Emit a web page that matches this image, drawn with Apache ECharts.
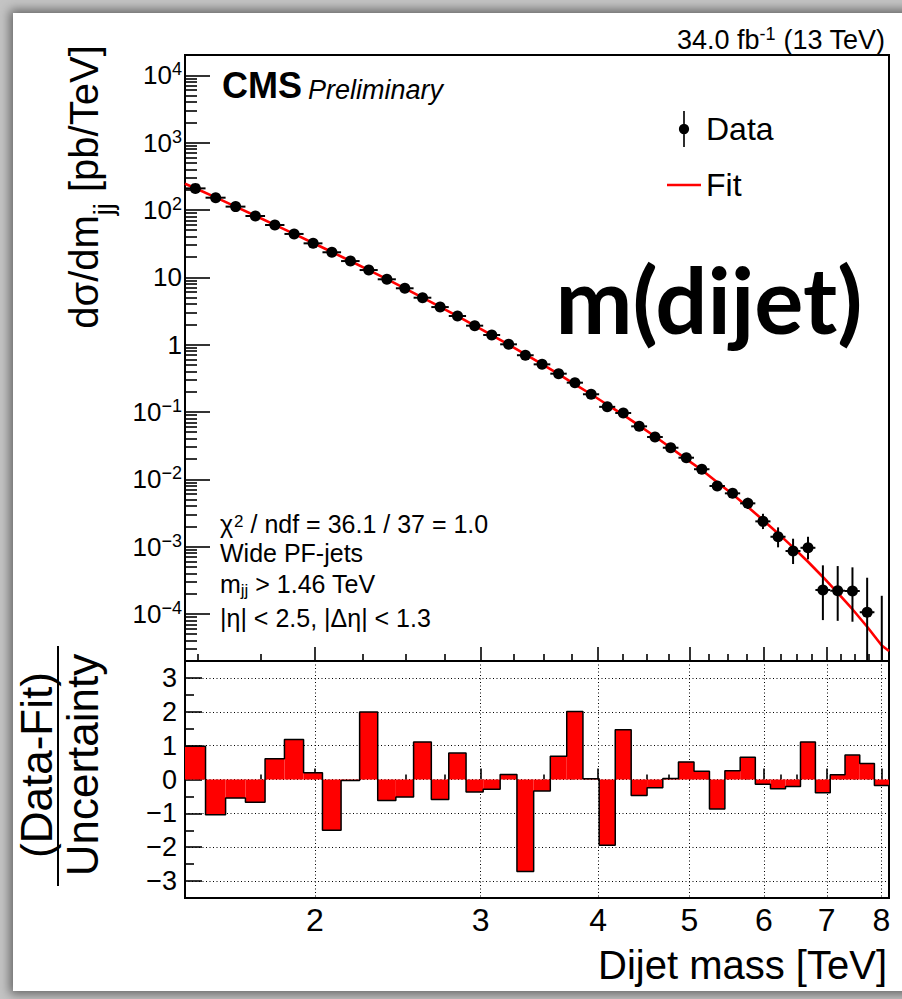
<!DOCTYPE html>
<html>
<head>
<meta charset="utf-8">
<script src="https://cdn.jsdelivr.net/npm/echarts@6/dist/echarts.min.js"></script>
<style>
html,body{margin:0;padding:0;width:902px;height:999px;overflow:hidden;background:#c4c4c4;}
#panel{position:absolute;left:13px;top:13px;width:920px;height:978px;background:#fff;box-shadow:0 0 10px 3px rgba(0,0,0,0.5);}
#chart{position:absolute;left:0;top:0;width:902px;height:999px;}
</style>
</head>
<body>
<div id="panel"></div>
<div id="chart"></div>
<script>
// ---- data ----
const binEdges = [1.455,1.530,1.607,1.687,1.770,1.856,1.945,2.037,2.132,2.231,2.332,2.438,2.546,2.659,2.775,2.895,3.019,3.147,3.279,3.416,3.558,3.704,3.854,4.010,4.171,4.337,4.509,4.686,4.869,5.058,5.253,5.455,5.663,5.877,6.099,6.328,6.564,6.808,7.060,7.320,7.589,7.866,8.152];
const crossSection = [209,152,112,81.3,59.7,44.0,31.9,23.5,17.4,12.8,9.33,6.86,4.97,3.61,2.66,1.91,1.39,1.01,0.695,0.509,0.370,0.272,0.183,0.119,0.0964,0.0611,0.0424,0.0294,0.0209,0.0141,0.00795,0.00618,0.00439,0.00237,0.00140,0.00086,0.00096,0.000227,0.000221,0.000219,0.000106,null];
const errLow = [null,null,null,null,null,null,null,null,null,null,null,null,null,null,null,null,null,null,null,0.499,0.3615,0.2647,0.1771,0.1144,0.0923,0.0579,0.0397,0.0272,0.0191,0.0127,0.00688,0.00525,0.00362,0.00182,0.000975,0.000551,0.000647,0.000081,0.000079,0.0000766,0.000018,0];
const errHigh = [null,null,null,null,null,null,null,null,null,null,null,null,null,null,null,null,null,null,null,0.519,0.3785,0.2793,0.1889,0.1237,0.1006,0.0643,0.0451,0.0316,0.0227,0.0156,0.00918,0.00726,0.00531,0.00307,0.00193,0.00131,0.00140,0.000527,0.000514,0.000492,0.000345,0.000186];
const fitMass = [1.455,1.4925,1.5685,1.647,1.7285,1.813,1.9005,1.991,2.0845,2.1815,2.2815,2.385,2.492,2.6025,2.717,2.835,2.957,3.083,3.213,3.3475,3.487,3.631,3.779,3.932,4.0905,4.254,4.423,4.5975,4.7775,4.9635,5.1555,5.354,5.559,5.77,5.988,6.2135,6.446,6.686,6.934,7.19,7.4545,7.7275,8.009,8.152];
const fitValue = [245,209.9,153.5,112.2,82.0,60.1,44.06,32.28,23.71,17.42,12.79,9.376,6.855,5.00,3.639,2.649,1.919,1.387,0.998,0.716,0.514,0.364,0.257,0.183,0.128,0.0904,0.0627,0.0431,0.0294,0.0199,0.01374,0.00902,0.00598,0.00389,0.00248,0.00157,0.000973,0.000596,0.000354,0.000206,0.0001175,0.0000646,0.0000339,0.0000282];
const residual = [0.98,-1.04,-0.55,-0.67,0.61,1.18,0.20,-1.50,-0.03,1.99,-0.62,-0.52,1.11,-0.59,0.78,-0.37,-0.29,0.15,-2.72,-0.34,0.69,2.01,0.02,-1.94,1.47,-0.47,-0.24,0.03,0.52,0.24,-0.87,0.26,0.66,-0.14,-0.27,-0.21,1.11,-0.39,0.14,0.72,0.47,-0.18];

// ---- axis ticks ----
const massMin = 1.455, massMax = 8.152;
const xsMin = 2e-5, xsMax = 2e4;
const majorMassTicks = [2,3,4,5,6,7,8];
const minorMassTicks = [1.5,1.75,2.25,2.5,2.75,3.25,3.5,3.75,4.25,4.5,4.75,5.25,5.5,5.75,6.25,6.5,6.75,7.25,7.5,7.75];
const decadeTicks = [1e-4,1e-3,1e-2,1e-1,1,10,100,1000,10000];
const pullTicks = [-3,-2,-1,0,1,2,3];
const pullMinorTicks = [-2.5,-1.5,-0.5,0.5,1.5,2.5];
const minorDecadeTicks = [];
for (let e = -5; e <= 4; e++) {
  for (let k = 2; k <= 9; k++) {
    const v = +(k * Math.pow(10, e)).toPrecision(3);
    if (v >= xsMin && v <= xsMax) minorDecadeTicks.push(v);
  }
}

const FONT = 'Liberation Sans, Arial, Helvetica, sans-serif';
const centers = crossSection.map((v, i) => (binEdges[i] + binEdges[i + 1]) / 2);

const errorRows = crossSection.map((v, i) => [binEdges[i], binEdges[i + 1], centers[i], v, errLow[i], errHigh[i]]);
const pointRows = [];
crossSection.forEach((v, i) => { if (v != null) pointRows.push([centers[i], v]); });
const barRows = residual.map((r, i) => [binEdges[i], binEdges[i + 1], r]);
const stepRows = residual.map((r, i) => [binEdges[i], r]);
stepRows.push([binEdges[binEdges.length - 1], residual[residual.length - 1]]);

const chart = echarts.init(document.getElementById('chart'), null, {renderer: 'svg'});

const tickLine = {color: '#000', width: 1.6};
const dotted = {color: '#000', width: 1, type: [1, 2.5]};

function decadeLabel(v) {
  const e = Math.round(Math.log10(v));
  if (e === 0) return '{b|1}';
  if (e === 1) return '{b|10}';
  return '{b|10}{s|' + (e < 0 ? '\u2212' + (-e) : e) + '}';
}

const option = {
  animation: false,
  textStyle: {fontFamily: FONT, color: '#000'},
  grid: [
    {left: 185, top: 55, width: 704, height: 606, show: true, borderColor: '#000', borderWidth: 2, backgroundColor: 'transparent'},
    {left: 185, top: 661, width: 704, height: 237, show: true, borderColor: '#000', borderWidth: 2, backgroundColor: 'transparent'}
  ],
  xAxis: [
    {gridIndex: 0, type: 'log', logBase: 10, min: massMin, max: massMax, position: 'bottom',
     axisLine: {show: false}, axisLabel: {show: false}, splitLine: {show: false},
     axisTick: {show: true, inside: true, length: 14, customValues: majorMassTicks, lineStyle: tickLine}},
    {gridIndex: 0, type: 'log', logBase: 10, min: massMin, max: massMax, position: 'bottom',
     axisLine: {show: false}, axisLabel: {show: false}, splitLine: {show: false},
     axisTick: {show: true, inside: true, length: 7, customValues: minorMassTicks, lineStyle: tickLine}},
    {gridIndex: 1, type: 'log', logBase: 10, min: massMin, max: massMax, position: 'bottom',
     axisLine: {show: false},
     axisLabel: {show: true, customValues: majorMassTicks, margin: 6, fontSize: 32, fontFamily: FONT, color: '#000'},
     splitLine: {show: true, lineStyle: dotted},
     axisTick: {show: true, inside: true, length: 11, customValues: majorMassTicks, lineStyle: tickLine}},
    {gridIndex: 1, type: 'log', logBase: 10, min: massMin, max: massMax, position: 'bottom',
     axisLine: {show: false}, axisLabel: {show: false}, splitLine: {show: false},
     axisTick: {show: true, inside: true, length: 5, customValues: minorMassTicks, lineStyle: tickLine}}
  ],
  yAxis: [
    {gridIndex: 0, type: 'log', logBase: 10, min: xsMin, max: xsMax, position: 'left',
     axisLine: {show: false}, splitLine: {show: false},
     axisTick: {show: true, inside: true, length: 25, customValues: decadeTicks, lineStyle: tickLine},
     axisLabel: {show: true, customValues: decadeTicks, margin: 3, formatter: decadeLabel,
       rich: {
         b: {fontSize: 26, fontFamily: FONT, color: '#000', lineHeight: 30},
         s: {fontSize: 18, fontFamily: FONT, color: '#000', lineHeight: 14, verticalAlign: 'top'}
       }}},
    {gridIndex: 0, type: 'log', logBase: 10, min: xsMin, max: xsMax, position: 'left',
     axisLine: {show: false}, splitLine: {show: false}, axisLabel: {show: false},
     axisTick: {show: true, inside: true, length: 12, customValues: minorDecadeTicks, lineStyle: tickLine}},
    {gridIndex: 1, type: 'value', min: -3.5, max: 3.5, position: 'left',
     axisLine: {show: false},
     splitLine: {show: true, lineStyle: dotted},
     axisTick: {show: true, inside: true, length: 17, customValues: pullTicks, lineStyle: tickLine},
     axisLabel: {show: true, customValues: pullTicks, margin: 8, fontSize: 27, fontFamily: FONT, color: '#000',
       formatter: v => (v < 0 ? '\u2212' + (-v) : String(v))}},
    {gridIndex: 1, type: 'value', min: -3.5, max: 3.5, position: 'left',
     axisLine: {show: false}, splitLine: {show: false}, axisLabel: {show: false},
     axisTick: {show: true, inside: true, length: 9, customValues: pullMinorTicks, lineStyle: tickLine}}
  ],
  legend: {
    data: [
      {name: 'Data', icon: 'path://M4.2,0 H5.8 V35 H4.2 Z M0,17.5 A5,5 0 1 1 10,17.5 A5,5 0 1 1 0,17.5 Z'},
      {name: 'Fit', icon: 'path://M0,0 H34 V2.6 H0 Z'}
    ],
    orient: 'vertical', left: 667, top: 111, padding: 0,
    itemWidth: 34, itemHeight: 36, itemGap: 22, selectedMode: false,
    symbolKeepAspect: true,
    textStyle: {fontSize: 32, fontFamily: FONT, color: '#000'}
  },
  series: [
    {name: 'Fit', type: 'line', xAxisIndex: 0, yAxisIndex: 0, z: 3,
     data: fitMass.map((m, i) => [m, fitValue[i]]),
     symbol: 'none', smooth: false, clip: true,
     itemStyle: {color: '#ff0000'}, lineStyle: {color: '#ff0000', width: 2.6}},
    {name: 'Data uncertainty', type: 'custom', xAxisIndex: 0, yAxisIndex: 0, z: 4, clip: true,
     data: errorRows, encode: {x: [0, 1, 2], y: [5]},
     renderItem: function (params, api) {
       const x0 = api.value(0), x1 = api.value(1), xc = api.value(2);
       const y = api.value(3), lo = api.value(4), hi = api.value(5);
       const st = {stroke: '#000', lineWidth: 2};
       const children = [];
       if (y > 0) {
         const a = api.coord([x0, y]), b = api.coord([x1, y]);
         children.push({type: 'line', shape: {x1: a[0], y1: a[1], x2: b[0], y2: b[1]}, style: st});
       }
       if (hi > 0) {
         const t = api.coord([xc, hi]);
         const d = api.coord([xc, lo > 0 ? lo : xsMin]);
         children.push({type: 'line', shape: {x1: t[0], y1: t[1], x2: d[0], y2: d[1]}, style: st});
       }
       return {type: 'group', children: children};
     }},
    {name: 'Data', type: 'scatter', xAxisIndex: 0, yAxisIndex: 0, z: 5,
     data: pointRows, symbol: 'circle', symbolSize: 11,
     itemStyle: {color: '#000', opacity: 1}},
    {name: 'Pull', type: 'custom', xAxisIndex: 2, yAxisIndex: 2, z: 3, clip: true,
     data: barRows, encode: {x: [0, 1], y: [2]},
     renderItem: function (params, api) {
       const a = api.coord([api.value(0), 0]);
       const b = api.coord([api.value(1), api.value(2)]);
       return {type: 'rect',
         shape: {x: a[0], y: Math.min(a[1], b[1]), width: b[0] - a[0], height: Math.abs(b[1] - a[1])},
         style: {fill: '#ff0000'}};
     }},
    {name: 'Pull outline', type: 'line', xAxisIndex: 2, yAxisIndex: 2, z: 4,
     data: stepRows, step: 'end', symbol: 'none',
     lineStyle: {color: '#000', width: 1.5}}
  ],
  graphic: [
    {type: 'text', x: 885, y: 40,
     style: {text: '{n|34.0 fb}{s|-1}{n| (13 TeV)}', align: 'right', verticalAlign: 'middle', textAlign: 'right', textVerticalAlign: 'middle',
       rich: {n: {fontSize: 27, fontFamily: FONT, fill: '#000', lineHeight: 30},
              s: {fontSize: 18, fontFamily: FONT, fill: '#000', lineHeight: 14, verticalAlign: 'top'}}}},
    {type: 'text', x: 222, y: 85,
     style: {text: '{a|CMS}{b|Preliminary}', align: 'left', verticalAlign: 'middle', textAlign: 'left', textVerticalAlign: 'middle',
       rich: {a: {fontSize: 36, fontWeight: 'bold', fontFamily: FONT, fill: '#000', lineHeight: 36, verticalAlign: 'bottom'},
              b: {fontSize: 27, fontStyle: 'italic', fontFamily: FONT, fill: '#000', lineHeight: 28, verticalAlign: 'bottom', padding: [0, 0, 0, 6]}}}},
    {type: 'text', x: 709, y: 298,
     style: {text: 'm(dijet)', fontSize: 92, fontWeight: 'bold', fontFamily: 'Lato, Open Sans, sans-serif', fill: '#000',
       align: 'center', verticalAlign: 'middle', textAlign: 'center', textVerticalAlign: 'middle'}},
    {type: 'text', x: 220, y: 524,
     style: {text: '{n|\u03c7}{s|2}{n| / ndf = 36.1 / 37 = 1.0}', align: 'left', verticalAlign: 'middle', textAlign: 'left', textVerticalAlign: 'middle',
       rich: {n: {fontSize: 25, fontFamily: FONT, fill: '#000', lineHeight: 22},
              s: {fontSize: 17, fontFamily: FONT, fill: '#000', lineHeight: 12, verticalAlign: 'top', padding: [0, 0, 0, 1]}}}},
    {type: 'text', x: 220, y: 553,
     style: {text: 'Wide PF-jets', fontSize: 25, lineHeight: 22, fontFamily: FONT, fill: '#000', align: 'left', verticalAlign: 'middle', textAlign: 'left', textVerticalAlign: 'middle'}},
    {type: 'text', x: 220, y: 584,
     style: {text: '{n|m}{u|jj}{n| > 1.46 TeV}', align: 'left', verticalAlign: 'middle', textAlign: 'left', textVerticalAlign: 'middle',
       rich: {n: {fontSize: 25, fontFamily: FONT, fill: '#000', lineHeight: 22},
              u: {fontSize: 17, fontFamily: FONT, fill: '#000', lineHeight: 12, verticalAlign: 'bottom', padding: [0, 0, -4, 0]}}}},
    {type: 'text', x: 220, y: 618,
     style: {text: '|\u03b7| < 2.5, |\u0394\u03b7| < 1.3', fontSize: 25, lineHeight: 22, fontFamily: FONT, fill: '#000', align: 'left', verticalAlign: 'middle', textAlign: 'left', textVerticalAlign: 'middle'}},
    {type: 'text', x: 887, y: 965,
     style: {text: 'Dijet mass [TeV]', fontSize: 40, fontFamily: FONT, fill: '#000', align: 'right', verticalAlign: 'middle', textAlign: 'right', textVerticalAlign: 'middle'}},
    {type: 'text', x: 84, y: 187, rotation: Math.PI / 2,
     style: {text: '{n|d\u03c3/dm}{u|jj}{n| [pb/TeV]}', align: 'center', verticalAlign: 'middle', textAlign: 'center', textVerticalAlign: 'middle',
       rich: {n: {fontSize: 40, fontFamily: FONT, fill: '#000', lineHeight: 46},
              u: {fontSize: 27, fontFamily: FONT, fill: '#000', lineHeight: 22, verticalAlign: 'bottom', padding: [0, 0, -10, 0]}}}},
    {type: 'text', x: 36, y: 765, rotation: Math.PI / 2,
     style: {text: '(Data-Fit)', fontSize: 44, fontFamily: FONT, fill: '#000', align: 'center', verticalAlign: 'middle', textAlign: 'center', textVerticalAlign: 'middle'}},
    {type: 'line', shape: {x1: 58, y1: 646, x2: 58, y2: 886}, style: {stroke: '#000', lineWidth: 2}},
    {type: 'text', x: 82, y: 765, rotation: Math.PI / 2,
     style: {text: 'Uncertainty', fontSize: 44, fontFamily: FONT, fill: '#000', align: 'center', verticalAlign: 'middle', textAlign: 'center', textVerticalAlign: 'middle'}}
  ]
};
chart.setOption(option);
</script>
</body>
</html>
